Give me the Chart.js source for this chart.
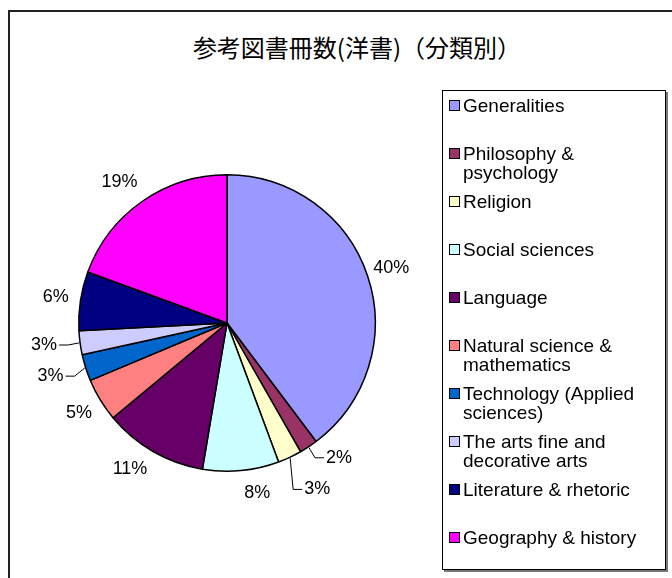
<!DOCTYPE html>
<html>
<head>
<meta charset="utf-8">
<script src="https://cdn.jsdelivr.net/npm/chart.js@4"></script>
<style>
  html, body { margin: 0; padding: 0; background: #fff; overflow: hidden; }
  body { width: 672px; height: 578px; position: relative; font-family: "Liberation Sans", Arial, sans-serif; }
  #frame { position: absolute; left: 8px; top: 10px; width: 700px; height: 620px; border: 2px solid #222; box-sizing: border-box; }
  #title { position: absolute; left: 28px; width: 658px; top: 31px; text-align: center; font-family: "Noto Sans CJK JP", sans-serif; font-size: 24px; line-height: 32px; color: #000; }
  #wrap { position: absolute; left: 0; top: 0; width: 672px; height: 578px; }
  #legend { position: absolute; left: 442px; top: 90px; width: 224px; height: 480px; border: 1px solid #000; box-shadow: 2px 2px 0 #777; box-sizing: border-box; background: #fff; }
  .item { position: absolute; left: 6px; right: 2px; height: 48px; font-size: 19px; line-height: 19px; color: #000; box-sizing: border-box; }
  .sw { position: absolute; left: 0; top: 9px; width: 9px; height: 9px; border: 1px solid #000; }
  .txt { position: absolute; left: 14px; top: 5px; white-space: nowrap; }
</style>
</head>
<body>
<div id="frame"></div>
<div id="title">参考図書冊数(洋書)（分類別）</div>
<div id="wrap"><canvas id="myChart" width="672" height="578"></canvas></div>
<div id="legend"></div>
<script>
const categories = ["Generalities", "Philosophy & psychology", "Religion", "Social sciences", "Language",
    "Natural science & mathematics", "Technology (Applied sciences)", "The arts fine and decorative arts",
    "Literature & rhetoric", "Geography & history"];
// legend text as it wraps in the original
const legendLines = [["Generalities"], ["Philosophy &", "psychology"], ["Religion"], ["Social sciences"], ["Language"],
    ["Natural science &", "mathematics"], ["Technology (Applied", "sciences)"], ["The arts fine and", "decorative arts"],
    ["Literature & rhetoric"], ["Geography & history"]];
const shares = [39.7, 2.0, 2.6, 8.3, 11.3, 4.7, 2.9, 2.6, 6.4, 19.4];
const colors = ["#9999FF", "#993366", "#FFFFCC", "#CCFFFF", "#660066", "#FF8080", "#0066CC", "#CCCCFF", "#000080", "#FF00FF"];

// label placement: angle shift (deg), distance beyond radius, leader line
const labelShift = [0, -6.4, -3.4, -4.7, 3.7, 0, 0.8, 0.8, 0, -2.4];
const labelGap = [25, 27, 41, 24, 27, 25, 36, 36, 25, 29];
const labelLeader = [false, true, true, false, false, false, true, true, false, false];

const total = shares.reduce((a, b) => a + b, 0);

const legendEl = document.getElementById("legend");
legendLines.forEach((lines, i) => {
    const it = document.createElement("div");
    it.className = "item";
    it.style.top = (48 * i) + "px";
    it.innerHTML = '<span class="sw" style="background:' + colors[i] + '"></span><span class="txt">' +
        lines.map(s => s.replace(/&/g, "&amp;")).join("<br>") + "</span>";
    legendEl.appendChild(it);
});

const pieLabels = {
    id: "pieLabels",
    afterDatasetsDraw(chart) {
        const ctx = chart.ctx;
        const meta = chart.getDatasetMeta(0);
        ctx.save();
        ctx.font = '18px "Liberation Sans", Arial, sans-serif';
        ctx.fillStyle = "#000";
        ctx.strokeStyle = "#000";
        ctx.lineWidth = 1;
        ctx.textBaseline = "middle";
        meta.data.forEach((arc, i) => {
            const p = arc.getProps(["x", "y", "startAngle", "endAngle", "outerRadius"], true);
            const mid = (p.startAngle + p.endAngle) / 2;
            const a = mid + labelShift[i] * Math.PI / 180;
            const d = p.outerRadius + labelGap[i];
            const lx = p.x + Math.cos(a) * d;
            const ly = p.y + Math.sin(a) * d;
            const text = Math.round(shares[i] / total * 100) + "%";
            const w = ctx.measureText(text).width;
            ctx.textAlign = "center";
            ctx.fillText(text, lx, ly);
            if (labelLeader[i]) {
                const ex = p.x + Math.cos(mid) * (p.outerRadius + 1);
                const ey = p.y + Math.sin(mid) * (p.outerRadius + 1);
                const right = lx > p.x;
                const edge = right ? lx - w / 2 - 2 : lx + w / 2 + 2;
                const elbow = right ? edge - 9 : edge + 9;
                ctx.beginPath();
                ctx.moveTo(ex, ey);
                ctx.lineTo(elbow, ly);
                ctx.lineTo(edge, ly);
                ctx.stroke();
            }
        });
        ctx.restore();
    }
};

new Chart(document.getElementById("myChart"), {
    type: "pie",
    data: {
        labels: categories,
        datasets: [{
            data: shares,
            backgroundColor: colors,
            borderColor: "#000",
            borderWidth: 1.5
        }]
    },
    options: {
        responsive: false,
        animation: false,
        layout: { padding: { left: 78, right: 296, top: 174, bottom: 106 } },
        plugins: {
            legend: { display: false },
            tooltip: { enabled: false }
        }
    },
    plugins: [pieLabels]
});
</script>
</body>
</html>
